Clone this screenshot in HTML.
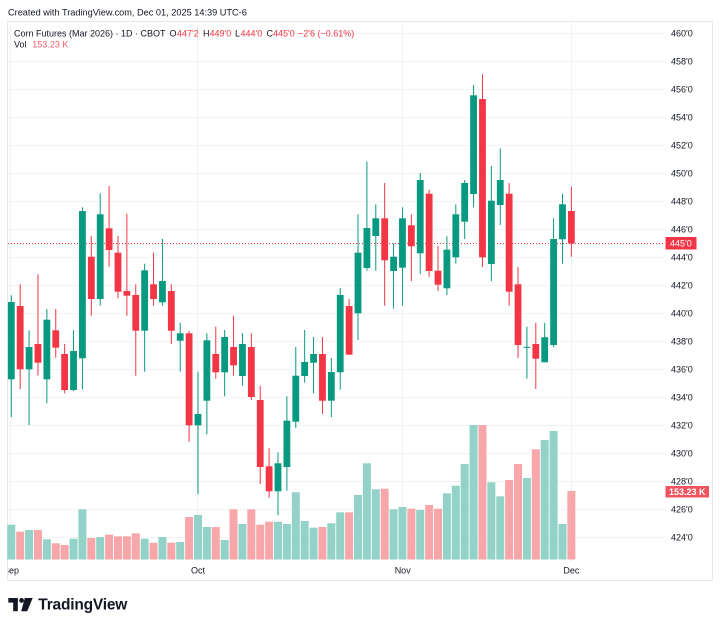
<!DOCTYPE html>
<html><head><meta charset="utf-8"><style>
html,body{margin:0;padding:0;background:#fff;}
svg{display:block;font-family:"Liberation Sans",sans-serif;}
</style></head><body>
<svg width="720" height="627" viewBox="0 0 720 627" xmlns="http://www.w3.org/2000/svg">
<rect width="720" height="627" fill="#fff"/>
<text x="8" y="15.5" font-size="9.2" fill="#131722">Created with TradingView.com, Dec 01, 2025 14:39 UTC-6</text>
<rect x="7.5" y="21.5" width="705" height="559" fill="none" stroke="#e6e8ee" stroke-width="1"/>
<g stroke="#f0f2f6" stroke-width="1">
<line x1="8" x2="664" y1="33.5" y2="33.5"/><line x1="8" x2="664" y1="61.5" y2="61.5"/><line x1="8" x2="664" y1="89.5" y2="89.5"/><line x1="8" x2="664" y1="117.5" y2="117.5"/><line x1="8" x2="664" y1="145.5" y2="145.5"/><line x1="8" x2="664" y1="173.5" y2="173.5"/><line x1="8" x2="664" y1="201.5" y2="201.5"/><line x1="8" x2="664" y1="229.5" y2="229.5"/><line x1="8" x2="664" y1="257.5" y2="257.5"/><line x1="8" x2="664" y1="285.5" y2="285.5"/><line x1="8" x2="664" y1="313.5" y2="313.5"/><line x1="8" x2="664" y1="341.5" y2="341.5"/><line x1="8" x2="664" y1="369.5" y2="369.5"/><line x1="8" x2="664" y1="397.5" y2="397.5"/><line x1="8" x2="664" y1="425.5" y2="425.5"/><line x1="8" x2="664" y1="453.5" y2="453.5"/><line x1="8" x2="664" y1="481.5" y2="481.5"/><line x1="8" x2="664" y1="509.5" y2="509.5"/><line x1="8" x2="664" y1="537.5" y2="537.5"/>
<line x1="10.5" x2="10.5" y1="22" y2="561"/><line x1="197.5" x2="197.5" y1="22" y2="561"/><line x1="402.5" x2="402.5" y1="22" y2="561"/><line x1="571.5" x2="571.5" y1="22" y2="561"/>
</g>
<!-- volume -->
<g fill="#92d2c9">
<rect x="7.3" y="524.7" width="8" height="34.8"/><rect x="25.08" y="530" width="8" height="29.5"/><rect x="42.86" y="539.3" width="8" height="20.2"/><rect x="69.53" y="538.7" width="8" height="20.8"/><rect x="78.42" y="509.3" width="8" height="50.2"/><rect x="96.2" y="537" width="8" height="22.5"/><rect x="140.65" y="538.7" width="8" height="20.8"/><rect x="158.43" y="537" width="8" height="22.5"/><rect x="176.21" y="542" width="8" height="17.5"/><rect x="193.99" y="515" width="8" height="44.5"/><rect x="202.88" y="527" width="8" height="32.5"/><rect x="220.66" y="540" width="8" height="19.5"/><rect x="238.44" y="524" width="8" height="35.5"/><rect x="274" y="521.7" width="8" height="37.8"/><rect x="282.89" y="524" width="8" height="35.5"/><rect x="291.78" y="492.3" width="8" height="67.2"/><rect x="300.67" y="521" width="8" height="38.5"/><rect x="309.56" y="527.7" width="8" height="31.8"/><rect x="327.34" y="523.3" width="8" height="36.2"/><rect x="336.23" y="512.3" width="8" height="47.2"/><rect x="354.01" y="495" width="8" height="64.5"/><rect x="362.9" y="463.3" width="8" height="96.2"/><rect x="371.79" y="489.3" width="8" height="70.2"/><rect x="389.57" y="509.3" width="8" height="50.2"/><rect x="398.46" y="507" width="8" height="52.5"/><rect x="416.24" y="510" width="8" height="49.5"/><rect x="442.91" y="493.3" width="8" height="66.2"/><rect x="451.8" y="485.7" width="8" height="73.8"/><rect x="460.69" y="464" width="8" height="95.5"/><rect x="469.58" y="425" width="8" height="134.5"/><rect x="487.36" y="482.3" width="8" height="77.2"/><rect x="496.25" y="496.3" width="8" height="63.2"/><rect x="522.92" y="478" width="8" height="81.5"/><rect x="540.7" y="440" width="8" height="119.5"/><rect x="549.59" y="431" width="8" height="128.5"/><rect x="558.48" y="524" width="8" height="35.5"/>
</g>
<g fill="#f7a7a9">
<rect x="16.19" y="531.7" width="8" height="27.8"/><rect x="33.97" y="530" width="8" height="29.5"/><rect x="51.75" y="543.3" width="8" height="16.2"/><rect x="60.64" y="545" width="8" height="14.5"/><rect x="87.31" y="538" width="8" height="21.5"/><rect x="105.09" y="534.7" width="8" height="24.8"/><rect x="113.98" y="536.3" width="8" height="23.2"/><rect x="122.87" y="536.3" width="8" height="23.2"/><rect x="131.76" y="533.3" width="8" height="26.2"/><rect x="149.54" y="542.7" width="8" height="16.8"/><rect x="167.32" y="542.7" width="8" height="16.8"/><rect x="185.1" y="517" width="8" height="42.5"/><rect x="211.77" y="527" width="8" height="32.5"/><rect x="229.55" y="509.3" width="8" height="50.2"/><rect x="247.33" y="509.3" width="8" height="50.2"/><rect x="256.22" y="524.7" width="8" height="34.8"/><rect x="265.11" y="521.7" width="8" height="37.8"/><rect x="318.45" y="527" width="8" height="32.5"/><rect x="345.12" y="512.3" width="8" height="47.2"/><rect x="380.68" y="488.7" width="8" height="70.8"/><rect x="407.35" y="508.7" width="8" height="50.8"/><rect x="425.13" y="505" width="8" height="54.5"/><rect x="434.02" y="508.7" width="8" height="50.8"/><rect x="478.47" y="425" width="8" height="134.5"/><rect x="505.14" y="480" width="8" height="79.5"/><rect x="514.03" y="464" width="8" height="95.5"/><rect x="531.81" y="449.3" width="8" height="110.2"/><rect x="567.37" y="491" width="8" height="68.5"/>
</g>
<!-- current price line -->
<line x1="8" x2="665" y1="243.5" y2="243.5" stroke="#f23645" stroke-width="1" stroke-dasharray="1 2"/>
<!-- green candles -->
<g fill="#089981">
<rect x="10.8" y="295.3" width="1" height="121.7"/><rect x="7.9" y="302" width="6.8" height="77.3"/>
<rect x="28.58" y="330.3" width="1" height="94.7"/><rect x="25.68" y="347" width="6.8" height="22.3"/>
<rect x="46.36" y="309" width="1" height="94.3"/><rect x="43.46" y="319.7" width="6.8" height="59.6"/>
<rect x="73.03" y="330.3" width="1" height="60.7"/><rect x="70.13" y="351" width="6.8" height="39"/>
<rect x="81.92" y="207.3" width="1" height="182"/><rect x="79.02" y="211" width="6.8" height="147.3"/>
<rect x="99.7" y="193.3" width="1" height="112.4"/><rect x="96.8" y="214.3" width="6.8" height="84.7"/>
<rect x="144.15" y="263.7" width="1" height="108"/><rect x="141.25" y="270.3" width="6.8" height="60.4"/>
<rect x="161.93" y="239" width="1" height="66.7"/><rect x="159.03" y="281" width="6.8" height="21.3"/>
<rect x="179.71" y="322.7" width="1" height="49"/><rect x="176.81" y="333.3" width="6.8" height="7.4"/>
<rect x="197.49" y="371.7" width="1" height="122.6"/><rect x="194.59" y="414" width="6.8" height="11.3"/>
<rect x="206.38" y="333.3" width="1" height="101"/><rect x="203.48" y="340.3" width="6.8" height="60.4"/>
<rect x="224.16" y="330" width="1" height="66.3"/><rect x="221.26" y="337" width="6.8" height="35.3"/>
<rect x="241.94" y="333.3" width="1" height="52.4"/><rect x="239.04" y="344" width="6.8" height="32"/>
<rect x="277.5" y="452.3" width="1" height="63"/><rect x="274.6" y="463.3" width="6.8" height="28"/>
<rect x="286.39" y="396.3" width="1" height="94.4"/><rect x="283.49" y="420.7" width="6.8" height="46.3"/>
<rect x="295.28" y="347" width="1" height="81"/><rect x="292.38" y="375.7" width="6.8" height="46"/>
<rect x="304.17" y="330" width="1" height="52.7"/><rect x="301.27" y="362" width="6.8" height="14"/>
<rect x="313.06" y="337" width="1" height="56.3"/><rect x="310.16" y="354" width="6.8" height="8.7"/>
<rect x="330.84" y="358" width="1" height="59"/><rect x="327.94" y="372" width="6.8" height="28.7"/>
<rect x="339.73" y="288" width="1" height="101.7"/><rect x="336.83" y="295" width="6.8" height="77.3"/>
<rect x="357.51" y="214.3" width="1" height="125.7"/><rect x="354.61" y="252.7" width="6.8" height="60.6"/>
<rect x="366.4" y="161.7" width="1" height="109"/><rect x="363.5" y="228" width="6.8" height="40"/>
<rect x="375.29" y="204.3" width="1" height="66.4"/><rect x="372.39" y="218.3" width="6.8" height="17.7"/>
<rect x="393.07" y="243.3" width="1" height="65.4"/><rect x="390.17" y="256.7" width="6.8" height="14.3"/>
<rect x="401.96" y="207.3" width="1" height="98.4"/><rect x="399.06" y="218.3" width="6.8" height="49.4"/>
<rect x="419.74" y="173" width="1" height="101"/><rect x="416.84" y="180" width="6.8" height="73.3"/>
<rect x="446.41" y="236.3" width="1" height="58.7"/><rect x="443.51" y="249.7" width="6.8" height="38.6"/>
<rect x="455.3" y="204.3" width="1" height="59.4"/><rect x="452.4" y="214.3" width="6.8" height="43"/>
<rect x="464.19" y="180" width="1" height="59"/><rect x="461.29" y="183" width="6.8" height="38.7"/>
<rect x="473.08" y="85" width="1" height="122.3"/><rect x="470.18" y="95.3" width="6.8" height="98.7"/>
<rect x="490.86" y="166" width="1" height="115"/><rect x="487.96" y="200.7" width="6.8" height="63.3"/>
<rect x="499.75" y="148.3" width="1" height="76.7"/><rect x="496.85" y="180" width="6.8" height="25"/>
<rect x="526.42" y="326.7" width="1" height="52"/><rect x="523.52" y="346.8" width="6.8" height="1"/>
<rect x="544.2" y="322.7" width="1" height="39.6"/><rect x="541.3" y="337.3" width="6.8" height="25"/>
<rect x="553.09" y="218.3" width="1" height="129"/><rect x="550.19" y="239" width="6.8" height="106"/>
<rect x="561.98" y="193.7" width="1" height="70"/><rect x="559.08" y="204.3" width="6.8" height="35"/>
</g>
<!-- red candles -->
<g fill="#f23645">
<rect x="19.69" y="284.3" width="1" height="105"/><rect x="16.79" y="306" width="6.8" height="63.3"/>
<rect x="37.47" y="274.3" width="1" height="101.4"/><rect x="34.57" y="344" width="6.8" height="18.7"/>
<rect x="55.25" y="309" width="1" height="48.7"/><rect x="52.35" y="330.3" width="6.8" height="17.4"/>
<rect x="64.14" y="344" width="1" height="49.3"/><rect x="61.24" y="354" width="6.8" height="36"/>
<rect x="90.81" y="236" width="1" height="79.7"/><rect x="87.91" y="256.7" width="6.8" height="42.3"/>
<rect x="108.59" y="186" width="1" height="80.7"/><rect x="105.69" y="228.3" width="6.8" height="21.7"/>
<rect x="117.48" y="236" width="1" height="62.3"/><rect x="114.58" y="252.7" width="6.8" height="39"/>
<rect x="126.37" y="213.7" width="1" height="102"/><rect x="123.47" y="291" width="6.8" height="4.7"/>
<rect x="135.26" y="284.3" width="1" height="91.4"/><rect x="132.36" y="295" width="6.8" height="35.7"/>
<rect x="153.04" y="252.7" width="1" height="53"/><rect x="150.14" y="284.3" width="6.8" height="14.7"/>
<rect x="170.82" y="284.3" width="1" height="59.7"/><rect x="167.92" y="291" width="6.8" height="39.7"/>
<rect x="188.6" y="331" width="1" height="110.7"/><rect x="185.7" y="333.3" width="6.8" height="92"/>
<rect x="215.27" y="326.7" width="1" height="52"/><rect x="212.37" y="354" width="6.8" height="18.3"/>
<rect x="233.05" y="315.7" width="1" height="60"/><rect x="230.15" y="347" width="6.8" height="18.3"/>
<rect x="250.83" y="333.3" width="1" height="66.7"/><rect x="247.93" y="347" width="6.8" height="50"/>
<rect x="259.72" y="385.7" width="1" height="98.3"/><rect x="256.82" y="400" width="6.8" height="67"/>
<rect x="268.61" y="448.3" width="1" height="49.4"/><rect x="265.71" y="466.3" width="6.8" height="25"/>
<rect x="321.95" y="337" width="1" height="77"/><rect x="319.05" y="354" width="6.8" height="46.7"/>
<rect x="348.62" y="299" width="1" height="55.7"/><rect x="345.72" y="306" width="6.8" height="48.7"/>
<rect x="384.18" y="183" width="1" height="122.7"/><rect x="381.28" y="218.3" width="6.8" height="42"/>
<rect x="410.85" y="214.3" width="1" height="66.7"/><rect x="407.95" y="225.3" width="6.8" height="21"/>
<rect x="428.63" y="190" width="1" height="87"/><rect x="425.73" y="193.7" width="6.8" height="77.3"/>
<rect x="437.52" y="246" width="1" height="45"/><rect x="434.62" y="270.7" width="6.8" height="14"/>
<rect x="481.97" y="74.3" width="1" height="192.7"/><rect x="479.07" y="99" width="6.8" height="158.3"/>
<rect x="508.64" y="183" width="1" height="122.7"/><rect x="505.74" y="193.7" width="6.8" height="98"/>
<rect x="517.53" y="267" width="1" height="91"/><rect x="514.63" y="284.3" width="6.8" height="60.7"/>
<rect x="535.31" y="322.7" width="1" height="66.3"/><rect x="532.41" y="344" width="6.8" height="14.7"/>
<rect x="570.87" y="186.7" width="1" height="70"/><rect x="567.97" y="211" width="6.8" height="32.3"/>
</g>
<!-- legend -->
<g font-size="9" fill="#131722">
<text x="14" y="36.5">Corn Futures (Mar 2026) · 1D · CBOT</text>
<text x="169.5" y="36.5">O</text><text x="177" y="36.5" fill="#f23645">447'2</text>
<text x="203" y="36.5">H</text><text x="209.5" y="36.5" fill="#f23645">449'0</text>
<text x="235" y="36.5">L</text><text x="240.5" y="36.5" fill="#f23645">444'0</text>
<text x="266.5" y="36.5">C</text><text x="273" y="36.5" fill="#f23645">445'0</text>
<text x="298" y="36.5" fill="#f23645">−2'6 (−0.61%)</text>
<text x="14" y="47.5">Vol</text><text x="32.3" y="47.5" fill="#f45b69">153.23 K</text>
</g>
<!-- price axis -->
<g font-size="9" fill="#131722">
<text x="671" y="36.5">460'0</text><text x="671" y="64.5">458'0</text><text x="671" y="92.5">456'0</text><text x="671" y="120.5">454'0</text><text x="671" y="148.5">452'0</text><text x="671" y="176.5">450'0</text><text x="671" y="204.5">448'0</text><text x="671" y="232.5">446'0</text><text x="671" y="260.5">444'0</text><text x="671" y="288.5">442'0</text><text x="671" y="316.5">440'0</text><text x="671" y="344.5">438'0</text><text x="671" y="372.5">436'0</text><text x="671" y="400.5">434'0</text><text x="671" y="428.5">432'0</text><text x="671" y="456.5">430'0</text><text x="671" y="484.5">428'0</text><text x="671" y="512.5">426'0</text><text x="671" y="540.5">424'0</text>
</g>
<rect x="665.5" y="237" width="31" height="12.5" fill="#f23645"/>
<text x="670" y="246.5" font-size="9" fill="#fff">445'0</text>
<rect x="665.5" y="486" width="43.5" height="11.5" fill="#f2545f"/>
<text x="669" y="495" font-size="9" font-weight="bold" fill="#fff">153.23 K</text>
<!-- time axis -->
<clipPath id="tc"><rect x="8" y="560" width="660" height="20"/></clipPath>
<g font-size="9" fill="#131722" text-anchor="middle" clip-path="url(#tc)">
<text x="11" y="573.5">Sep</text>
<text x="198" y="573.5">Oct</text>
<text x="402.7" y="573.5">Nov</text>
<text x="571.4" y="573.5">Dec</text>
</g>
<!-- logo -->
<g fill="#131722">
<rect x="8.3" y="598" width="9.5" height="4.6"/>
<rect x="13.2" y="598" width="4.6" height="13.2"/>
<circle cx="21.6" cy="600.4" r="2.4"/>
<polygon points="24.8,598 32.7,598 27.2,611.2 21.2,611.2"/>
<text x="38.3" y="609.5" font-size="15.5" font-weight="bold" letter-spacing="-0.2">TradingView</text>
</g>
</svg>
</body></html>
